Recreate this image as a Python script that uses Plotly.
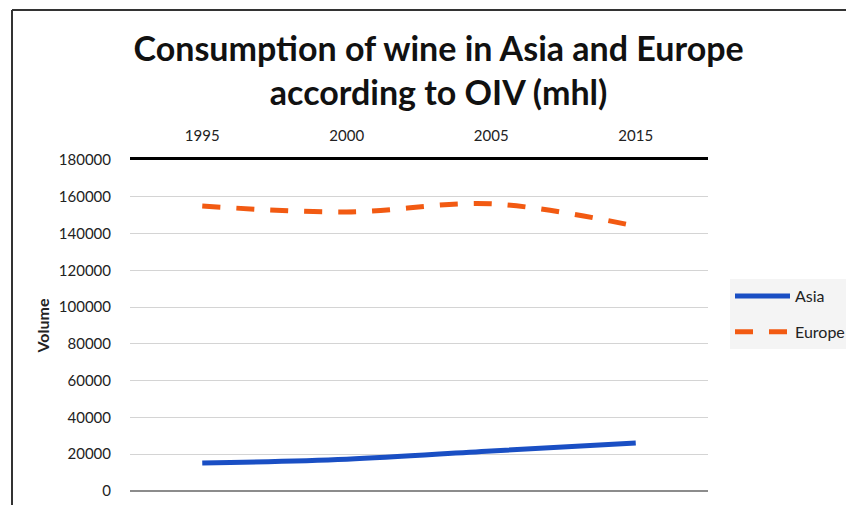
import plotly.graph_objects as go

years = ["1995", "2000", "2005", "2015"]
asia = [15200, 17300, 21800, 26100]
europe = [155000, 151700, 156200, 144000]
y_ticks = [0, 20000, 40000, 60000, 80000, 100000, 120000, 140000, 160000, 180000]

# page body adds 8px, so the figure is drawn 8px smaller
W, H = 846, 497
ml, mr, mt, mb = 122, 146, 152, 14

fig = go.Figure()
fig.add_trace(go.Scatter(x=years, y=asia, name="Asia", mode="lines", legendgroup="a",
                         line=dict(color="#1a4fc4", width=5, shape="spline")))
fig.add_trace(go.Scatter(x=years, y=europe, name="Europe", mode="lines", legendgroup="e",
                         line=dict(color="#f25a12", width=5, shape="spline", dash="18px,16px")))

# frame of the screenshot (left and top border)
pw, ph = W - ml - mr, H - mt - mb
def px(x): return (x - ml) / pw
def py(y): return (H - mb - y) / ph
fig.add_shape(type="line", xref="paper", yref="paper", x0=px(4), x1=px(4), y0=py(2), y1=py(H + 5),
              line=dict(color="#333333", width=2))
fig.add_shape(type="line", xref="paper", yref="paper", x0=px(4), x1=px(W + 5), y0=py(2), y1=py(2),
              line=dict(color="#333333", width=2))

fig.update_layout(
    width=W, height=H,
    margin=dict(l=ml, r=mr, t=mt, b=mb, autoexpand=False),
    paper_bgcolor="white", plot_bgcolor="white",
    font=dict(family="Lato", size=15, color="#222222"),
    title=dict(text="<b>Consumption of wine in Asia and Europe<br>according to OIV (mhl)</b>",
               x=0.509, xanchor="center", y=1 - 53 / H, yanchor="middle",
               font=dict(family="Lato", size=34, color="#111111")),
    xaxis=dict(type="category", side="top", range=[-0.5, 3.5], showgrid=False, automargin=False,
               showline=True, linecolor="black", linewidth=3, ticks="", ticklabelstandoff=10,
               tickfont=dict(size=15)),
    yaxis=dict(range=[0, 180000], tickvals=y_ticks, showgrid=True, gridcolor="#d4d4d4", gridwidth=1,
               zeroline=True, zerolinecolor="#8c8c8c", zerolinewidth=1.5, automargin=False,
               showline=False, ticks="", tickformat="d", ticklabelstandoff=18,
               title=dict(text="<b>Volume</b>", standoff=5, font=dict(size=16)),
               tickfont=dict(size=15)),
    legend=dict(x=px(722), xanchor="left", y=py(271), yanchor="top",
                bgcolor="#f4f4f4", itemwidth=55, tracegroupgap=12,
                font=dict(size=16), itemsizing="constant"),
)

fig.write_html("out.html")
